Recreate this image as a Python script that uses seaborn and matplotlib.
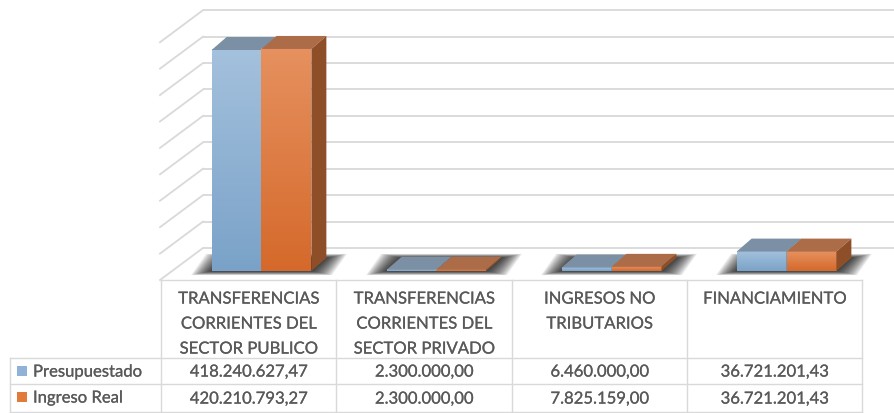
import numpy as np
import pandas as pd
import matplotlib
matplotlib.use("Agg")
import matplotlib.pyplot as plt
import matplotlib.patheffects as pe
import seaborn as sns
from matplotlib.patches import Polygon, Rectangle
from matplotlib.transforms import Affine2D
from matplotlib.colors import LinearSegmentedColormap, to_rgb

# ---------------- data ----------------
categories = [
    "TRANSFERENCIAS\nCORRIENTES DEL\nSECTOR PUBLICO",
    "TRANSFERENCIAS\nCORRIENTES DEL\nSECTOR PRIVADO",
    "INGRESOS NO\nTRIBUTARIOS",
    "FINANCIAMIENTO",
]
series = ["Presupuestado", "Ingreso Real"]
presupuestado = [418240627.47, 2300000.00, 6460000.00, 36721201.43]
ingreso_real = [420210793.27, 2300000.00, 7825159.00, 36721201.43]
grid_values = [0, 50e6, 100e6, 150e6, 200e6, 250e6, 300e6, 350e6, 400e6, 450e6]


def fmt(v):
    s = f"{v:,.2f}"
    return s.replace(",", "X").replace(".", ",").replace("X", ".")


# ---------------- styling ----------------
W, H = 895, 413
TXT = "#595959"
GRID = "#d9d9d9"
BLUE = "#8fb2d6"
ORANGE = "#e07b3c"
BLUE_TOP, BLUE_BOT = "#a4c1dd", "#7aa2c8"
OR_TOP, OR_BOT = "#e6915f", "#d5692b"
BLUE_CAP, OR_CAP = "#7b90a4", "#ad6c48"
BLUE_SIDE, OR_SIDE = "#5f7f9c", "#8e4f28"
FONT = ["Lato", "DejaVu Sans"]
FS = 12.0
TEXT_FX = [pe.withStroke(linewidth=0.15, foreground=TXT)]

plt.rcParams["font.family"] = FONT

fig = plt.figure(figsize=(W / 100, H / 100), dpi=100)
ax = fig.add_axes([0, 0, 1, 1])

df = pd.DataFrame({
    "categoria": categories * 2,
    "serie": [series[0]] * 4 + [series[1]] * 4,
    "valor": presupuestado + ingreso_real,
})

sns.barplot(data=df, x="categoria", y="valor", hue="serie",
            palette=[BLUE, ORANGE], width=0.57, gap=0, dodge=True,
            saturation=1, legend=False, edgecolor="none", ax=ax)

# pixel geometry -> data scale
PXX = 175.0                      # px per category
X0PX = 174.0                     # px of x = -0.5
PXY = 221.0 / 418.24e6           # px per unit value
ZERO_TOP = 271.0                 # top-origin px of value 0 (front)
xlim = (-0.5 - X0PX / PXX, -0.5 + (W - X0PX) / PXX)
ylim = (-(H - ZERO_TOP) / PXY, ZERO_TOP / PXY)
ax.set_xlim(*xlim)
ax.set_ylim(*ylim)
ax.axis("off")


def dxp(px):
    return px / PXX


def dyp(px):
    return px / PXY


def xpx(px):  # top-origin px x -> data x
    return -0.5 + (px - X0PX) / PXX


# ---------------- walls / grid ----------------
back_left = xpx(203)
front_left = xpx(160)
back_off = dyp(23)     # back wall zero is 23 px above front zero
depth = dyp(32)
for v in grid_values:
    yb = v + back_off
    ax.plot([back_left, xlim[1] + 0.2], [yb, yb], color=GRID, lw=1.3,
            zorder=0.5, solid_capstyle="butt")
    ax.plot([back_left, front_left], [yb, yb - depth], color=GRID, lw=1.3,
            zorder=0.5)

# ---------------- 3D bars ----------------
BDX, BDY = dxp(15), dyp(13)
blue_rgb = to_rgb(BLUE)
grad = np.linspace(0, 1, 256).reshape(-1, 1)
groups = {}
for p in list(ax.patches):
    if not isinstance(p, Rectangle):
        continue
    x0, w, h = p.get_x(), p.get_width(), p.get_height()
    if w <= 0:
        continue
    x1 = x0 + w
    is_blue = np.allclose(p.get_facecolor()[:3], blue_rgb, atol=0.02)
    zb = 2.0 if is_blue else 3.0
    p.set_zorder(zb)
    top_c, bot_c = (BLUE_TOP, BLUE_BOT) if is_blue else (OR_TOP, OR_BOT)
    cmap = LinearSegmentedColormap.from_list("g", [bot_c, top_c])
    ax.imshow(grad, cmap=cmap, origin="lower", extent=(x0, x1, 0, h),
              aspect="auto", zorder=zb + 0.01, interpolation="bilinear")
    key = round(x0 + (w if is_blue else 0), 3)
    g = groups.setdefault(key, [np.inf, -np.inf])
    g[0] = min(g[0], x0)
    g[1] = max(g[1], x1)
    # top face
    ax.add_patch(Polygon([(x0, h), (x1, h), (x1 + BDX, h + BDY), (x0 + BDX, h + BDY)],
                         closed=True, facecolor=BLUE_CAP if is_blue else OR_CAP,
                         edgecolor="none", zorder=zb + 0.1))
    # side face
    ax.add_patch(Polygon([(x1, 0), (x1, h), (x1 + BDX, h + BDY), (x1 + BDX, BDY)],
                         closed=True, facecolor=BLUE_SIDE if is_blue else OR_SIDE,
                         edgecolor="none", zorder=zb + 0.1))

# soft shadows under each bar pair
for gx0, gx1 in groups.values():
    for e in np.arange(1, 21, 1.5):
        ex, ey = dxp(e), dyp(e * 0.2)
        ax.add_patch(Polygon([(gx0 - ex, -ey), (gx1 + ex, -ey),
                              (gx1 + BDX + ex, BDY + ey), (gx0 + BDX - ex, BDY + ey)],
                             closed=True, facecolor="black", edgecolor="none",
                             alpha=0.085, zorder=1.0))

ax.set_xlim(*xlim)
ax.set_ylim(*ylim)

# ---------------- data table ----------------
px = Affine2D().scale(1 / W, -1 / H).translate(0, 1) + ax.transAxes
col_edges = [161, 336, 512, 687, 862]
LINE = dict(color=GRID, lw=1.0, transform=px, clip_on=False, zorder=5)
ax.plot([161, 862], [280, 280], **LINE)
ax.plot([10, 862], [358, 358], **LINE)
ax.plot([10, 862], [384, 384], **LINE)
ax.plot([10, 862], [412, 412], **LINE)
for xe in col_edges:
    ax.plot([xe, xe], [280, 413], **LINE)
ax.plot([10, 10], [358, 413], **LINE)

CAP = 5.6
TXT_KW = dict(transform=px, va="baseline", fontsize=FS, color=TXT, zorder=6,
              path_effects=TEXT_FX)
for i, cat in enumerate(categories):
    cx = (col_edges[i] + col_edges[i + 1]) / 2
    for k, line in enumerate(cat.split("\n")):
        ax.text(cx, 298 + 25 * k + CAP, line, ha="center", **TXT_KW)
    ax.text(cx, 371 + CAP, fmt(presupuestado[i]), ha="center", **TXT_KW)
    ax.text(cx, 398 + CAP, fmt(ingreso_real[i]), ha="center", **TXT_KW)

for name, color, yc in [(series[0], BLUE, 371), (series[1], ORANGE, 397)]:
    ax.add_patch(Rectangle((17, yc - 5), 10, 10, transform=px, facecolor=color,
                           edgecolor="none", zorder=6, clip_on=False))
    ax.text(33, yc + CAP, name, ha="left", **TXT_KW)

fig.savefig("out.png", dpi=100)
